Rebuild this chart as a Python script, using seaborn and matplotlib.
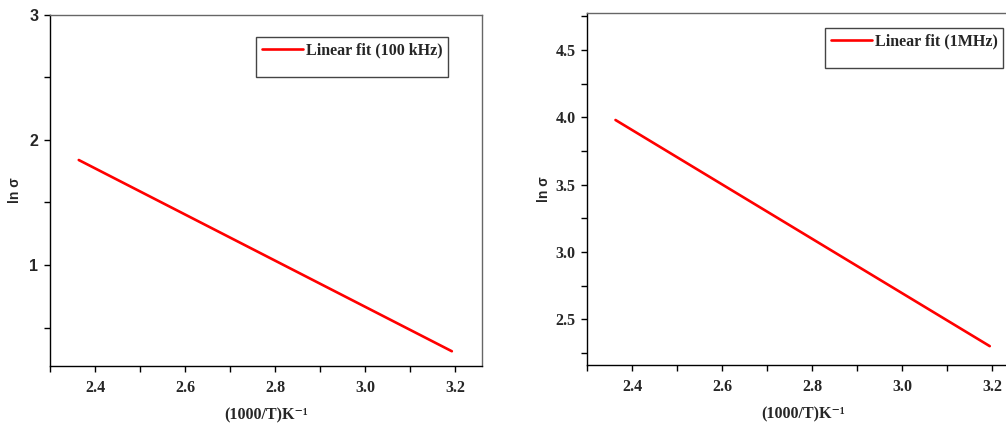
import matplotlib
matplotlib.use("Agg")
import matplotlib.pyplot as plt
from matplotlib.lines import Line2D
from matplotlib.ticker import MultipleLocator, FormatStrFormatter
import pandas as pd
import seaborn as sns

# Arrhenius linear fits of ln(sigma) against 1000/T
x_100k = [2.364, 3.193]
lnsig_100k = [1.84, 0.31]
label_100k = "Linear fit (100 kHz)"

x_1m = [2.363, 3.195]
lnsig_1m = [3.98, 2.30]
label_1m = "Linear fit (1MHz)"

xlabel = "(1000/T)K\u207b\u00b9"
ylabel = "ln σ"

sns.set_theme(style="white")
plt.rcParams["font.family"] = ["Liberation Serif", "DejaVu Serif"]

SANS = ["Liberation Sans", "DejaVu Sans"]
SERIF = ["Liberation Serif", "DejaVu Serif"]

W, H = 1006, 423
fig = plt.figure(figsize=(W / 100, H / 100), dpi=100)

ax1 = fig.add_axes([49.5 / W, (H - 366) / H, (482 - 49.5) / W, (366 - 15) / H])
ax2 = fig.add_axes([586.7 / W, (H - 365) / H, (1019 - 586.7) / W, (365 - 12.7) / H])


def draw(ax, xs, ys, label, ylim, ymaj, ymin, ytick_family, ylabel_x, leg_anchor):
    df = pd.DataFrame({"x": xs, "y": ys})
    sns.lineplot(data=df, x="x", y="y", ax=ax, color="#ff0000", linewidth=1.9,
                 legend=False)
    ax.set_xlim(2.299, 3.26)
    ax.set_ylim(*ylim)
    ax.xaxis.set_major_locator(MultipleLocator(0.2))
    ax.xaxis.set_minor_locator(MultipleLocator(0.1))
    ax.yaxis.set_major_locator(MultipleLocator(ymaj))
    ax.yaxis.set_minor_locator(MultipleLocator(ymin))
    ax.xaxis.set_major_formatter(FormatStrFormatter("%.1f"))
    ax.tick_params(axis="both", which="both", direction="out", length=4,
                   width=1, color="black", left=True, bottom=True,
                   top=False, right=False)
    ax.tick_params(axis="x", which="major", pad=6)
    ax.tick_params(axis="y", which="major", pad=4)
    for t in ax.get_xticklabels():
        t.set_fontweight("bold")
        t.set_fontsize(11.5)
        t.set_family(SERIF)
    for t in ax.get_yticklabels():
        t.set_fontweight("bold")
        t.set_fontsize(11.5)
        t.set_family(ytick_family)
    for side in ["left", "bottom"]:
        ax.spines[side].set_color("black")
        ax.spines[side].set_linewidth(1.0)
    for side in ["top", "right"]:
        ax.spines[side].set_color("#666666")
        ax.spines[side].set_linewidth(1.0)
    ax.set_xlabel(xlabel, fontsize=11.5, fontweight="bold", labelpad=8,
                  family=SERIF)
    ax.set_ylabel(ylabel, fontsize=10, fontweight="bold", family=SANS)
    ax.yaxis.set_label_coords(ylabel_x, 0.5)
    handles = [Line2D([], [], color="#ff0000", linewidth=1.9),
               Line2D([], [], color="none")]
    leg = ax.legend(handles, [label, " "], prop={"weight": "bold", "size": 11.5},
                    fancybox=False, edgecolor="#444444", framealpha=1,
                    handlelength=2.6, handletextpad=0.15, borderpad=0.35,
                    labelspacing=0.0, borderaxespad=0, loc="upper right",
                    bbox_to_anchor=leg_anchor, bbox_transform=fig.transFigure)
    leg.get_frame().set_linewidth(1.0)
    leg.get_texts()[1].set_fontsize(8)
    return leg


draw(ax1, x_100k, lnsig_100k, label_100k, (0.192, 3.0), 1, 0.5,
     SANS, -0.064, (448 / W, (H - 37) / H))
draw(ax2, x_1m, lnsig_1m, label_1m, (2.16, 4.777), 0.5, 0.25,
     SERIF, -0.083, (1003 / W, (H - 28) / H))

fig.savefig("out.png", dpi=100)
